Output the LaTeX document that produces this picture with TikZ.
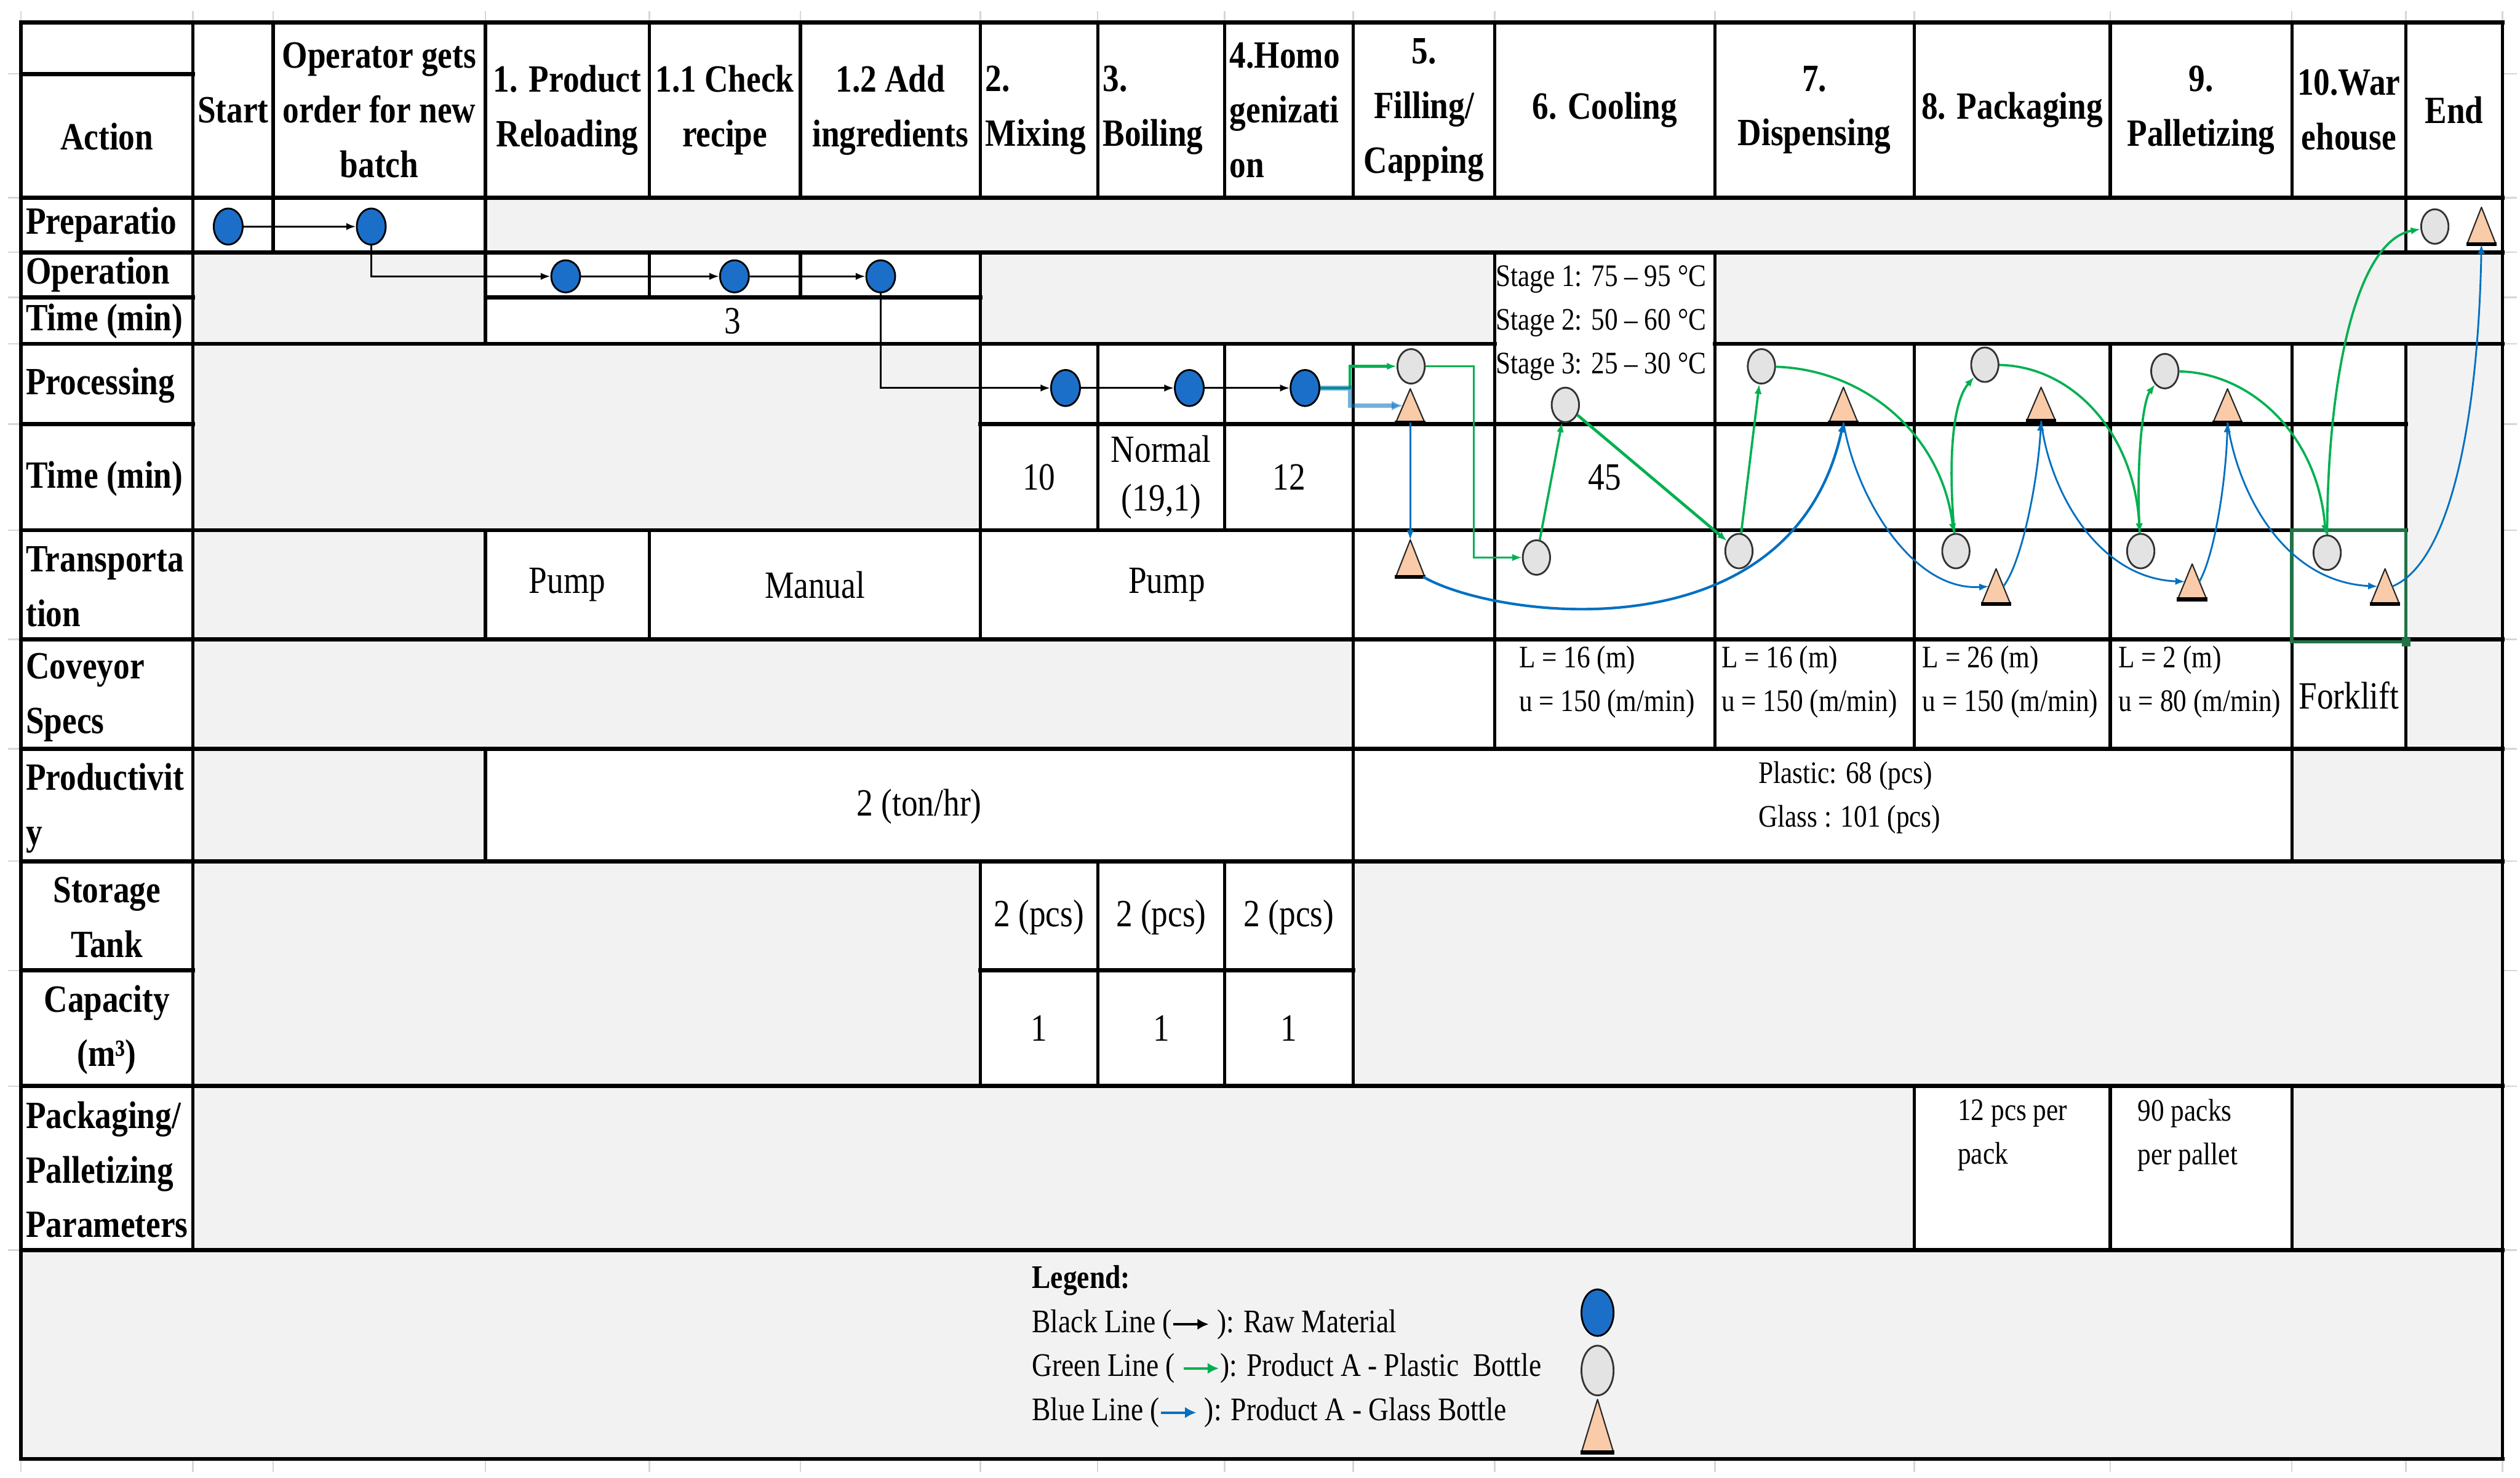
\documentclass[tikz,border=0pt]{standalone}
\usepackage{fontspec}
\setmainfont{Liberation Serif}[FakeStretch=0.85]
\usetikzlibrary{shapes.geometric,arrows.meta,calc}
\definecolor{cellgray}{HTML}{F2F2F2}
\definecolor{rawblue}{HTML}{1B6FC8}
\definecolor{bottlegray}{HTML}{E3E3E3}
\definecolor{peach}{HTML}{F9CBA8}
\definecolor{lgreen}{HTML}{00B050}
\definecolor{lblue}{HTML}{0070C0}
\definecolor{xlgreen}{HTML}{217346}
\definecolor{gridtick}{HTML}{D6D6D6}
\newcommand\glasstri[5]{% name, x, base y, half width, height
  \coordinate (#1) at (#2,#3);
  \coordinate (#1-a) at (#2,#3-#5);
  \coordinate (#1-l) at (#2-#4/2,#3-#5/2);
  \coordinate (#1-r) at (#2+#4/2,#3-#5/2);
  \coordinate (#1-br) at (#2+#4-1,#3);
  \filldraw[glass] (#2-#4,#3) -- (#2,#3-#5) -- (#2+#4,#3) -- cycle;
  \draw[glassbase] (#2-#4-0.5,#3) -- (#2+#4+0.5,#3);
}
\newcommand\legarrow[1]{\tikz[baseline=-5pt]\draw[#1, line width=1.6pt, -{Latex[length=7pt,width=7pt]}] (0pt,0pt) -- (22pt,0pt);}
\begin{document}
\begin{tikzpicture}[x=1pt,y=-1pt,
  hrule/.style={line width=2.6pt, line cap=rect},
  vrule/.style={line width=2pt, line cap=rect},
  hdr/.style={font=\fontsize{24}{34}\selectfont\bfseries, align=center, inner sep=0pt},
  lab/.style={font=\fontsize{24}{34}\selectfont\bfseries, align=left, anchor=west, inner sep=0pt},
  big/.style={font=\fontsize{24}{30}\selectfont, align=center, inner sep=0pt},
  sm/.style={font=\fontsize{19.5}{27}\selectfont, align=left, anchor=west, inner sep=0pt},
  legendtext/.style={font=\fontsize{20.5}{27.5}\selectfont, align=left, anchor=west, inner sep=0pt},
  raw/.style={ellipse, draw=black, line width=1.1pt, fill=rawblue, minimum width=18pt, minimum height=22.5pt, inner sep=0pt},
  bottle/.style={ellipse, draw=black!80, line width=1.1pt, fill=bottlegray, minimum width=17pt, minimum height=21.5pt, inner sep=0pt},
  glass/.style={fill=peach, draw=black!85, line width=0.8pt, line join=round},
  glassbase/.style={line width=2.4pt},
  kline/.style={line width=1.1pt, -{Latex[length=6pt,width=4.5pt]}},
  gline/.style={lgreen, line width=1.4pt, -{Latex[length=6pt,width=4.5pt]}},
  bline/.style={lblue, line width=1.1pt, -{Latex[length=6pt,width=4.5pt]}}
]
\useasboundingbox (0,0) rectangle (1568,919.6);
\fill[white] (0,0) rectangle (1568,919.6);
% faint spreadsheet grid ticks
\foreach \x in {13,120,170,302,404,498,610,683,762,842,930,1067,1191,1313,1426,1497,1557}{
  \draw[gridtick, line width=1pt] (\x,7) -- (\x,13);
  \draw[gridtick, line width=1pt] (\x,909) -- (\x,916);
}
\foreach \y in {46,123,157,185,214,264,330,398,466,536,604,676,778}{
  \draw[gridtick, line width=1pt] (1558,\y) -- (1566,\y);
  \draw[gridtick, line width=1pt] (5,\y) -- (12,\y);
}
% gray cells
\fill[cellgray] (302,123) rectangle (1497,157);
\fill[cellgray] (120,157) rectangle (302,214);
\fill[cellgray] (610,157) rectangle (930,214);
\fill[cellgray] (1067,157) rectangle (1557,214);
\fill[cellgray] (120,214) rectangle (610,330);
\fill[cellgray] (1497,214) rectangle (1557,466);
\fill[cellgray] (120,330) rectangle (302,398);
\fill[cellgray] (120,398) rectangle (842,466);
\fill[cellgray] (120,466) rectangle (302,536);
\fill[cellgray] (1426,466) rectangle (1557,536);
\fill[cellgray] (120,536) rectangle (610,676);
\fill[cellgray] (842,536) rectangle (1557,676);
\fill[cellgray] (120,676) rectangle (1191,778);
\fill[cellgray] (1426,676) rectangle (1557,778);
\fill[cellgray] (13,778) rectangle (1557,908);
% vertical rules
\foreach \x/\ya/\yb in {13/14/908,1557/14/908,120/14/778,170/14/157,302/14/214,302/330/398,302/466/536,
  404/14/123,404/157/185,404/330/398,498/14/123,498/157/185,610/14/123,610/157/398,610/536/676,
  683/14/123,683/214/330,683/536/676,762/14/123,762/214/330,762/536/676,842/14/123,842/214/676,
  930/14/123,930/157/466,1067/14/123,1067/157/466,1191/14/123,1191/214/466,1191/676/778,
  1313/14/123,1313/214/466,1313/676/778,1426/14/123,1426/214/536,1426/676/778,1497/14/157,1497/214/466}
  \draw[vrule] (\x,\ya) -- (\x,\yb);
% horizontal rules
\foreach \y/\xa/\xb in {14/13/1557,46/13/120,123/13/1557,157/13/1557,185/13/120,185/302/610,
  214/13/930,214/1067/1557,264/13/120,264/610/1497,330/13/1497,398/13/1557,466/13/1557,
  536/13/1557,604/13/120,604/610/842,676/13/1557,778/13/1557,908/13/1557}
  \draw[hrule] (\xa,\y) -- (\xb,\y);
% spreadsheet selection
\draw[xlgreen, line width=2.2pt] (1426,330) rectangle (1497,399.5);
\fill[xlgreen] (1494.5,397) rectangle (1500,402.5);

% header
\node[hdr] (hAction) at (66.5,85) {Action};
\node[hdr] (hStart) at (145,68.5) {Start};
\node[hdr] (hOp) at (236,68.5) {Operator gets\\order for new\\batch};
\node[hdr] (h1) at (353,68.5) {1. Product\\Reloading};
\node[hdr] (h11) at (451,68.5) {1.1 Check\\recipe};
\node[hdr] (h12) at (554,68.5) {1.2 Add\\ingredients};
\node[hdr, align=left, anchor=west] (h2) at (613,68.5) {2.\\Mixing};
\node[hdr, align=left, anchor=west] (h3) at (686,68.5) {3.\\Boiling};
\node[hdr, align=left, anchor=west] (h4) at (765,68.5) {4.Homo\\genizati\\on};
\node[hdr] (h5) at (886,68.5) {5.\\Filling/\\Capping};
\node[hdr] (h6) at (998.5,68.5) {6. Cooling};
\node[hdr] (h7) at (1129,68.5) {7.\\Dispensing};
\node[hdr] (h8) at (1252,68.5) {8. Packaging};
\node[hdr] (h9) at (1369.5,68.5) {9.\\Palletizing};
\node[hdr] (h10) at (1461.5,68.5) {10.War\\ehouse};
\node[hdr] (hEnd) at (1527,68.5) {End};

% row labels
\node[lab] (lPrep) at (16,140) {Preparatio};
\node[lab] (lOper) at (16,171) {Operation};
\node[lab] (lTime1) at (16,200) {Time (min)};
\node[lab] (lProc) at (16,240) {Processing};
\node[lab] (lTime2) at (16,298) {Time (min)};
\node[lab] (lTrans) at (16,365) {Transporta\\tion};
\node[lab] (lConv) at (16,434) {Coveyor\\Specs};
\node[lab] (lProd) at (16,503) {Productivit\\y};
\node[hdr] (lStor) at (66.5,571) {Storage\\Tank};
\node[hdr] (lCap) at (66.5,641) {Capacity\\(m³)};
\node[lab] (lPack) at (16,728) {Packaging/\\Palletizing\\Parameters};

% data cells
\node[big] (dOpTime) at (456,200) {3};
\node[sm] (dStage) at (930.5,201) {Stage 1: 75 – 95 °C\\Stage 2: 50 – 60 °C\\Stage 3: 25 – 30 °C};
\node[big] (dMix) at (646.5,297) {10};
\node[big] (dBoil) at (722.5,297) {Normal\\(19,1)};
\node[big] (dHomo) at (802,297) {12};
\node[big] (dCool) at (998.5,297) {45};
\node[big] (dPump1) at (353,364) {Pump};
\node[big] (dManual) at (507,364) {Manual};
\node[big] (dPump2) at (726,364) {Pump};
\node[sm] (dConv1) at (945,424.5) {L = 16 (m)\\u = 150 (m/min)};
\node[sm] (dConv2) at (1071,424.5) {L = 16 (m)\\u = 150 (m/min)};
\node[sm] (dConv3) at (1196,424.5) {L = 26 (m)\\u = 150 (m/min)};
\node[sm] (dConv4) at (1318,424.5) {L = 2 (m)\\u = 80 (m/min)};
\node[big] (dFork) at (1461.5,433) {Forklift};
\node[big] (dTon) at (572,502) {2 (ton/hr)};
\node[sm] (dPcs) at (1094,496.5) {Plastic: 68 (pcs)\\Glass : 101 (pcs)};
\node[big] (dSt1) at (646.5,571) {2 (pcs)};
\node[big] (dSt2) at (722.5,571) {2 (pcs)};
\node[big] (dSt3) at (802,571) {2 (pcs)};
\node[big] (dCp1) at (646.5,640) {1};
\node[big] (dCp2) at (722.5,640) {1};
\node[big] (dCp3) at (802,640) {1};
\node[sm] (dPack) at (1218,706.5) {12 pcs per\\pack};
\node[sm] (dPall) at (1330,706.5) {90 packs\\per pallet};

% legend
\node[legendtext] (legend) at (642,838) {\textbf{Legend:}\\Black Line (\legarrow{black}\ ): Raw Material\\Green Line (\ \legarrow{lgreen}): Product A - Plastic\ \ Bottle\\Blue Line (\legarrow{lblue}\ ): Product A - Glass Bottle};
\node[raw, minimum width=20pt, minimum height=29pt] (lgraw) at (994,817) {};
\node[bottle, minimum width=20pt, minimum height=31pt] (lgbottle) at (994,853) {};
\glasstri{lgglass}{994}{904}{10}{33}

% raw material nodes
\node[raw] (b1) at (142,141) {};
\node[raw] (b2) at (231,141) {};
\node[raw, minimum height=20pt] (b3) at (352,172) {};
\node[raw, minimum height=20pt] (b4) at (457,172) {};
\node[raw, minimum height=20pt] (b5) at (548,172) {};
\node[raw] (b6) at (663,241.5) {};
\node[raw] (b7) at (740,241.5) {};
\node[raw] (b8) at (812,241.5) {};
% plastic bottle nodes
\node[bottle] (c1) at (878,228) {};
\node[bottle] (c2) at (956,347) {};
\node[bottle] (c3) at (974,252) {};
\node[bottle] (c4) at (1082,343) {};
\node[bottle] (c5) at (1096,228) {};
\node[bottle] (c6) at (1217,343) {};
\node[bottle] (c7) at (1235,227) {};
\node[bottle] (c8) at (1332,343) {};
\node[bottle] (c9) at (1347,231) {};
\node[bottle] (c10) at (1448,344) {};
\node[bottle] (c11) at (1515,141) {};
% glass bottle nodes
\glasstri{t1}{877.5}{263}{9}{21}
\glasstri{t2}{877.5}{359}{9}{23}
\glasstri{t3}{1147}{263}{9}{22}
\glasstri{t4}{1242}{376}{9}{22}
\glasstri{t5}{1270}{262}{9}{21}
\glasstri{t6}{1364}{373}{9}{22}
\glasstri{t7}{1386}{263}{9}{21}
\glasstri{t8}{1484}{376}{9}{22}
\glasstri{t9}{1544}{152}{9}{23}

% black connectors
\draw[kline] (b1) -- (b2);
\draw[kline] (b2) |- (b3);
\draw[kline] (b3) -- (b4);
\draw[kline] (b4) -- (b5);
\draw[kline] (b5) |- (b6);
\draw[kline] (b6) -- (b7);
\draw[kline] (b7) -- (b8);

% split after homogenization
\coordinate (j1) at (840,241.5);
\draw[gline, line width=1.6pt] (b8) -- (j1) |- (c1);
\draw[lblue, line width=2.8pt, opacity=0.55, -{Latex[length=7pt,width=6pt]}] (b8) -- (j1) |- (t1-l);

% green connectors
\coordinate (g1) at (917,300);
\draw[gline] (c1) -| (g1) |- (c2);
\draw[gline] (c2) -- (c3);
\draw[gline, line width=1.8pt] (c3) -- (c4);
\draw[gline] (c4) -- (c5);
\draw[gline] (c5) .. controls (1160,230) and (1208,270) .. (c6);
\draw[gline] (c6) .. controls (1212,285) and (1215,250) .. (c7);
\draw[gline] (c7) .. controls (1290,228) and (1328,270) .. (c8);
\draw[gline] (c8) .. controls (1329,290) and (1333,250) .. (c9);
\draw[gline] (c9) .. controls (1400,232) and (1442,270) .. (c10);
\draw[gline] (c10) .. controls (1448,240) and (1465,150) .. (c11);

% blue connectors
\draw[bline] (t1) -- (t2-a);
\draw[bline, line width=1.6pt] (t2-br) .. controls (930,385) and (1115,410) .. (t3);
\draw[bline] (t3) .. controls (1155,310) and (1190,368) .. (t4-l);
\draw[bline] (t4-r) .. controls (1258,350) and (1268,300) .. (t5);
\draw[bline] (t5) .. controls (1275,305) and (1305,360) .. (t6-l);
\draw[bline] (t6-r) .. controls (1378,345) and (1385,300) .. (t7);
\draw[bline] (t7) .. controls (1392,305) and (1420,362) .. (t8-l);
\draw[bline] (t8-r) .. controls (1525,350) and (1542,260) .. (t9);
\end{tikzpicture}
\end{document}
